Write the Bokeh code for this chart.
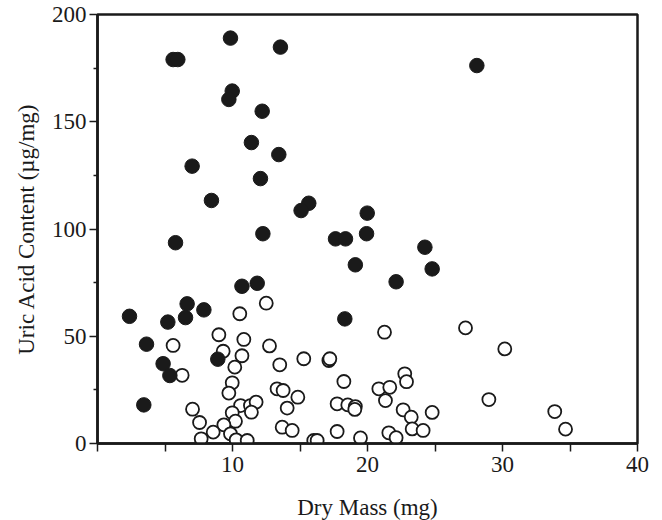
from bokeh.plotting import figure
from bokeh.models import Range1d, FixedTicker
from bokeh.embed import file_html
from bokeh.resources import INLINE

# Filled circles
filled_x = [9.85, 13.55, 5.6, 5.95, 9.98, 9.73, 12.2, 11.4, 13.43, 7.01, 12.07, 8.44, 15.65, 15.08,
            19.98, 12.25, 28.1, 19.93, 5.78, 17.63, 18.37, 19.1, 10.7, 11.83, 6.64, 2.37, 5.21, 6.52,
            7.88, 18.32, 3.63, 8.91, 4.86, 5.36, 3.43, 24.25, 24.79, 22.12]
filled_y = [189, 184.8, 179, 179, 164.3, 160.4, 154.9, 140.3, 134.7, 129.3, 123.5, 113.3, 112, 108.6,
            107.4, 97.8, 176.2, 97.8, 93.6, 95.4, 95.4, 83.3, 73.3, 74.7, 65.1, 59.3, 56.6, 58.7,
            62.3, 58.1, 46.3, 39.3, 37.2, 31.7, 18, 91.5, 81.4, 75.4]

# Open circles
open_x = [12.5, 10.54, 8.99, 10.84, 5.6, 12.74, 9.31, 10.7, 10.17, 13.5, 15.28, 17.14, 17.21, 6.27,
          9.98, 18.25, 9.73, 13.3, 13.75, 14.84, 7.04, 10.6, 11.33, 11.75, 11.4, 14.05, 17.75, 18.54,
          19.1, 19.06, 9.98, 10.22, 7.56, 9.36, 13.68, 14.42, 8.57, 9.85, 17.75, 7.68, 10.27, 11.09,
          16.02, 16.27, 19.48, 21.26, 27.26, 30.17, 22.76, 22.89, 20.84, 21.65, 21.33, 28.99, 22.64,
          24.79, 33.87, 23.24, 23.31, 24.12, 34.67, 21.58, 22.12]
open_y = [65.4, 60.5, 50.7, 48.5, 45.7, 45.5, 43, 40.9, 35.6, 36.7, 39.5, 38.7, 39.5, 31.8,
          28.3, 28.9, 23.5, 25.5, 24.7, 21.6, 16, 17.7, 17.7, 19.3, 14.6, 16.5, 18.5, 18,
          17.2, 15.9, 14.3, 10.4, 9.8, 8.7, 7.6, 6.1, 5.3, 4.5, 5.6, 2.2, 1.7, 1.4,
          1.4, 1.4, 2.6, 51.9, 53.9, 44.1, 32.5, 28.8, 25.5, 26.2, 20, 20.5, 15.7,
          14.5, 14.9, 12.3, 6.8, 6.1, 6.7, 5, 2.7]

x_ticks = [0, 5, 10, 15, 20, 25, 30, 35, 40]
x_labels = {0: "", 5: "", 10: "10", 15: "", 20: "20", 25: "", 30: "30", 35: "", 40: "40"}
y_ticks = [0, 50, 100, 150, 200]
y_minor = [25, 75, 125, 175]

FONT = "Liberation Serif"
INK = "#1a1a1a"

p = figure(frame_width=540, frame_height=429, output_backend="svg", toolbar_location=None,
           x_range=Range1d(0, 40), y_range=Range1d(0, 200),
           min_border_left=97, min_border_top=14, min_border_right=25, min_border_bottom=77)
p.background_fill_color = "white"
p.border_fill_color = "white"
p.outline_line_color = INK
p.outline_line_width = 2.5
p.grid.visible = False

p.scatter(open_x, open_y, size=13, marker="circle", fill_color="white",
          line_color=INK, line_width=1.8)
p.scatter(filled_x, filled_y, size=14.5, marker="circle", fill_color=INK,
          line_color=INK, line_width=1)

xa = p.xaxis[0]
xa.ticker = FixedTicker(ticks=x_ticks)
xa.major_label_overrides = x_labels
xa.axis_label = "Dry Mass (mg)"
ya = p.yaxis[0]
ya.ticker = FixedTicker(ticks=y_ticks, minor_ticks=y_minor)
ya.axis_label = "Uric Acid Content (\u00b5g/mg)"

for ax in (xa, ya):
    ax.axis_line_color = INK
    ax.axis_line_width = 2.5
    ax.major_tick_line_color = INK
    ax.major_tick_line_width = 1.5
    ax.minor_tick_line_color = INK
    ax.minor_tick_line_width = 1.5
    ax.major_tick_in = 0
    ax.major_tick_out = 8
    ax.minor_tick_in = 0
    ax.minor_tick_out = 4
    ax.major_label_text_font = FONT
    ax.major_label_text_font_size = "23px"
    ax.major_label_text_color = INK
    ax.axis_label_text_font = FONT
    ax.axis_label_text_font_size = "23px"
    ax.axis_label_text_font_style = "normal"
    ax.axis_label_text_color = INK

xa.major_label_standoff = 5
xa.axis_label_standoff = 20
ya.major_label_standoff = 3
ya.axis_label_standoff = 10

open("out.html", "w").write(file_html(p, INLINE))
